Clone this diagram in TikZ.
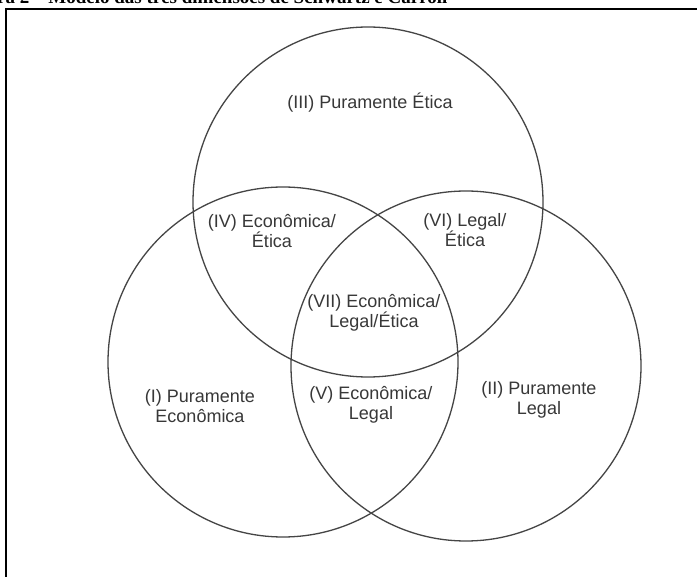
\documentclass[tikz,border=0pt]{standalone}
\usepackage{fontspec}
\setmainfont{Liberation Serif}
\setsansfont{Liberation Sans}
\usepackage{tikz}
\definecolor{cinzaborda}{rgb}{0.27,0.27,0.27}
\definecolor{cinzatexto}{rgb}{0.22,0.22,0.22}
\tikzset{
  conjunto/.style={
    circle,
    draw=cinzaborda,
    line width=1.3pt,
    minimum size=350pt,
    inner sep=0pt
  },
  rotulo/.style={
    align=center,
    text=cinzatexto,
    inner sep=0pt,
    font=\sffamily\fontsize{18}{20}\selectfont
  },
  titulo/.style={
    inner sep=0pt,
    font=\fontsize{19}{22}\selectfont\bfseries
  },
  moldura/.style={
    line width=2pt,
    black
  }
}

\begin{document}
\begin{tikzpicture}[x=1pt,y=-1pt]
\useasboundingbox (0,0) rectangle (697,577);
\clip (0,0) rectangle (697,577);
\fill[white] (0,0) rectangle (697,577);
% legenda cortada no topo e moldura
\node[titulo, anchor=base west] (titulo) at (-40,4) {Figura 2 – Modelo das três dimensões de Schwartz e Carroll};
\coordinate (mb) at (6,590);
\coordinate (mc) at (710,9);
\draw[moldura] (mb) |- (mc);
% os tres conjuntos
\node[conjunto] (etica) at (368,202) {};
\node[conjunto] (economica) at (283,362) {};
\node[conjunto] (legal) at (466,366) {};
% regioes
\node[rotulo] (r3) at (370,103) {(III) Puramente Ética};
\node[rotulo] (r4) at (272,231) {(IV) Econômica/\\Ética};
\node[rotulo] (r6) at (465,230) {(VI) Legal/\\Ética};
\node[rotulo] (r7) at (374,313) {(VII) Econômica/\\Legal/Ética};
\node[rotulo] (r1) at (200,406) {(I) Puramente\\Econômica};
\node[rotulo] (r5) at (371,405) {(V) Econômica/\\Legal};
\node[rotulo] (r2) at (539,400) {(II) Puramente\\Legal};
\end{tikzpicture}
\end{document}
